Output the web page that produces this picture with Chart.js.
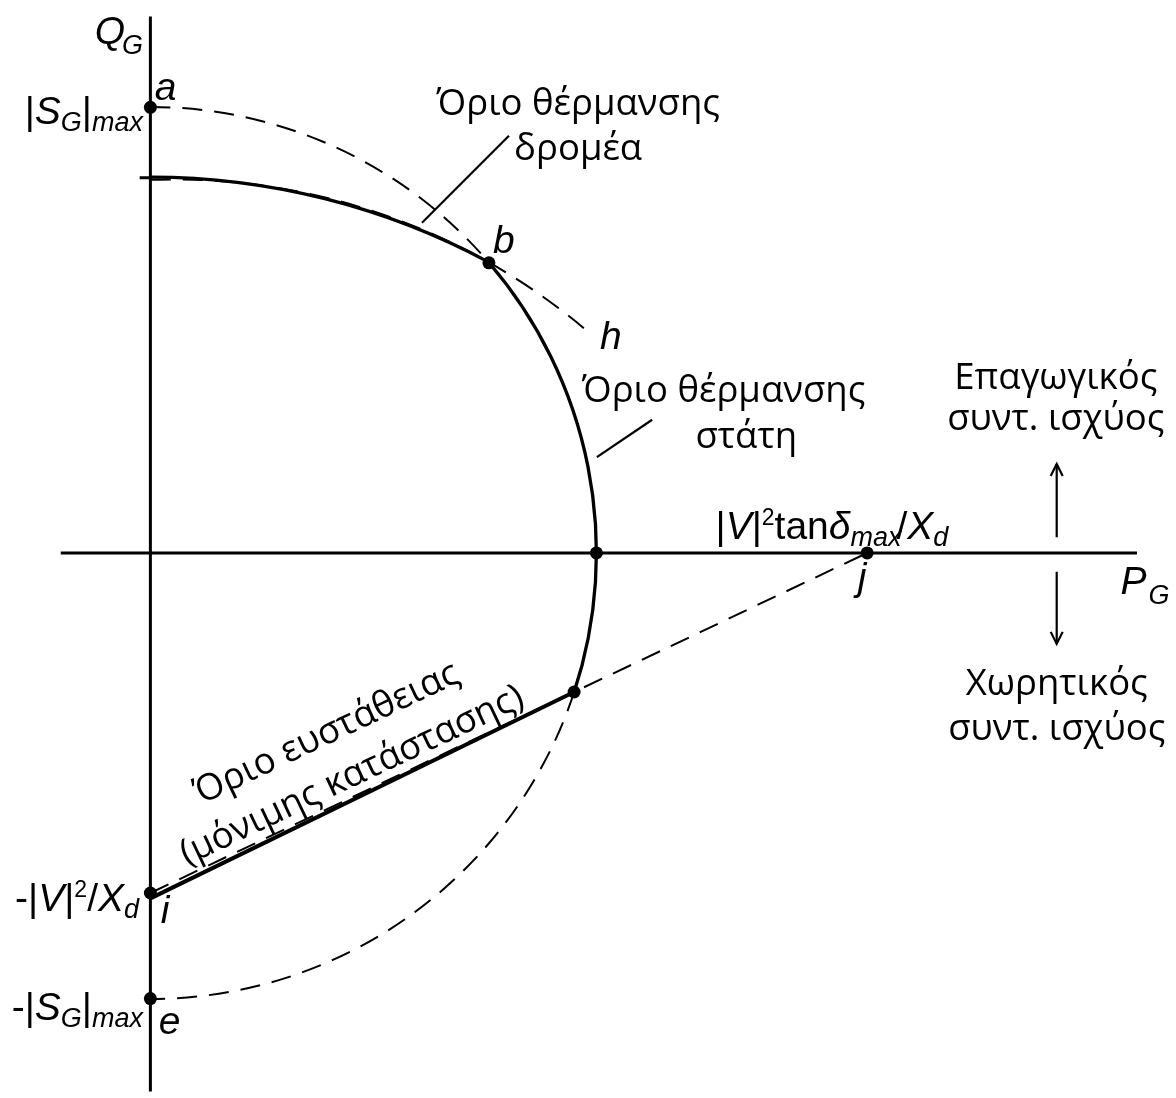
<!DOCTYPE html>
<html lang="el">
<head>
<meta charset="UTF-8">
<title>Διάγραμμα ικανότητας σύγχρονης γεννήτριας</title>
<script src="https://cdn.jsdelivr.net/npm/chart.js@4.4.1/dist/chart.umd.min.js"></script>
<style>
  html, body { margin: 0; padding: 0; background: #fff; }
  canvas { display: block; }
</style>
</head>
<body>
<canvas id="pq-chart" width="1176" height="1098"></canvas>
<script>
// P-Q capability chart, everything in per-unit of |S_G|max

// plane extent
const pRange = [-0.3226, 2.2849];
const qRange = [-1.2084, 1.2262];

// marked points
const markNames = ['a', 'b', '', '', 'i', 'e', 'j'];
const markP = [0, 0.759, 1.0, 0.950, 0, 0, 1.607];
const markQ = [1.0, 0.651, 0, -0.312, -0.763, -1.0, 0];

// circle arcs: stator limit (|S_G|max), rotor limit and its extension to h
const arcCentreP = [0, 0, 0, 0, 0.0535];
const arcCentreQ = [0, 0, 0, -0.763, -0.594];
const arcRadius = [1.0, 1.0, 1.0, 1.605, 1.431];
const arcFromDeg = [90, 40.6, -18.2, 90, 92.1];
const arcToDeg = [40.6, -18.2, -90, 61.8, 49.1];
const arcKind = ['dash', 'solid', 'dash', 'solid', 'dash'];

// straight segments
const segNames = ['P axis', 'Q axis', 'stability', 'stability ext', 'tick', 'rotor leader', 'stator leader', 'up', 'down'];
const segP1 = [-0.201, 0, 0, 0, -0.024, 0.609, 1.001, 2.032, 2.032];
const segQ1 = [0, 1.204, -0.775, -0.763, 0.842, 0.741, 0.215, 0.0355, -0.042];
const segP2 = [2.212, 0, 0.950, 1.607, 0, 0.804, 1.125, 2.032, 2.032];
const segQ2 = [0, -1.22, -0.312, 0, 0.842, 0.936, 0.299, 0.1996, -0.204];
const segKind = ['axis', 'axis', 'heavy', 'dash', 'axis', 'thin', 'thin', 'thin', 'thin'];

const MATH = '"Liberation Sans", Arial, sans-serif';
const GREEK = '"Open Sans", sans-serif';
const DASH = [20, 12];

const widthOf = { axis: 3, heavy: 4, solid: 3.3, dash: 2, thin: 2.2 };

function runFont(kind) {
  if (kind === 'n') return '39px ' + MATH;
  if (kind === 'i') return 'italic 39px ' + MATH;
  if (kind === 'sub') return 'italic 27px ' + MATH;
  if (kind === 'sup') return '23px ' + MATH;
  if (kind === 'g') return '36.5px ' + GREEK;
  return kind;
}

// label anchors (P, Q) with text runs
const labels = [
  { p: -0.125, q: 1.142, align: 'left', subDy: 10, runs: [['Q', 'i', -3], ['G', 'sub']] },
  { p: 2.175, q: -0.093, align: 'left', subDy: 10, runs: [['P', 'i', 2], ['G', 'sub']] },
  { p: -0.0166, q: 0.962, align: 'right', runs: [['|', 'n'], ['S', 'i'], ['G', 'sub'], ['|', 'n'], ['max', 'sub']] },
  { p: -0.0255, q: -0.803, align: 'right', runs: [['-|', 'n'], ['V', 'i'], ['|', 'n'], ['2', 'sup'], ['/', 'n'], ['X', 'i'], ['d', 'sub']] },
  { p: -0.0166, q: -1.047, align: 'right', runs: [['-|', 'n'], ['S', 'i'], ['G', 'sub'], ['|', 'n'], ['max', 'sub']] },
  { p: 1.267, q: 0.031, align: 'left', runs: [['|', 'n'], ['V', 'i'], ['|', 'n'], ['2', 'sup'], ['tan', 'n'], ['δ', 'i'], ['max', 'sub', -5], ['/', 'n'], ['X', 'i'], ['d', 'sub']] },
  { p: 0.010, q: 1.016, align: 'left', runs: [['a', 'i']] },
  { p: 0.768, q: 0.672, align: 'left', runs: [['b', 'i']] },
  { p: 1.008, q: 0.457, align: 'left', runs: [['h', 'i']] },
  { p: 0.023, q: -0.831, align: 'left', runs: [['i', 'i']] },
  { p: 0.019, q: -1.080, align: 'left', runs: [['e', 'i']] },
  { p: 1.586, q: -0.082, align: 'left', runs: [['j', 'i']] },
  { p: 0.959, q: 0.982, align: 'center', runs: [['Όριο θέρμανσης', 'g']] },
  { p: 0.959, q: 0.882, align: 'center', runs: [['δρομέα', 'g']] },
  { p: 1.285, q: 0.339, align: 'center', runs: [['Όριο θέρμανσης', 'g']] },
  { p: 1.336, q: 0.235, align: 'center', runs: [['στάτη', 'g']] },
  { p: 2.030, q: 0.368, align: 'center', runs: [['Επαγωγικός', 'g']] },
  { p: 2.030, q: 0.277, align: 'center', runs: [['συντ. ισχύος', 'g']] },
  { p: 2.032, q: -0.319, align: 'center', runs: [['Χωρητικός', 'g']] },
  { p: 2.032, q: -0.419, align: 'center', runs: [['συντ. ισχύος', 'g']] }
];

// text set along the stability line (from i towards j)
const slopeLabels = [
  { t: 0.287, offset: 58, text: 'Όριο ευστάθειας' },
  { t: 0.293, offset: 9, text: '(μόνιμης κατάστασης)' }
];

function drawRuns(ctx, x, y, align, runs, subDy) {
  let total = 0;
  const widths = runs.map(r => {
    ctx.font = runFont(r[1]);
    const w = ctx.measureText(r[0]).width + (r[2] || 0);
    total += w;
    return w;
  });
  let cx = align === 'right' ? x - total : align === 'center' ? x - total / 2 : x;
  runs.forEach((r, k) => {
    ctx.font = runFont(r[1]);
    let dy = 0;
    if (r[1] === 'sub') dy = subDy || 7;
    if (r[1] === 'sup') dy = -14;
    ctx.fillText(r[0], cx, y + dy);
    cx += widths[k];
  });
}

const geometryPlugin = {
  id: 'geometry',
  beforeDatasetsDraw(chart) {
    const { ctx, scales: { x, y } } = chart;
    const unit = x.getPixelForValue(1) - x.getPixelForValue(0);
    ctx.save();
    ctx.strokeStyle = '#000';
    arcRadius.forEach((r, k) => {
      ctx.beginPath();
      ctx.lineWidth = widthOf[arcKind[k]];
      ctx.setLineDash(arcKind[k] === 'dash' ? DASH : []);
      ctx.arc(x.getPixelForValue(arcCentreP[k]), y.getPixelForValue(arcCentreQ[k]), r * unit,
        -arcFromDeg[k] * Math.PI / 180, -arcToDeg[k] * Math.PI / 180, false);
      ctx.stroke();
    });
    ctx.restore();
  },
  afterDatasetsDraw(chart) {
    const { ctx, scales: { x, y } } = chart;
    ctx.save();
    ctx.fillStyle = '#000';
    ctx.strokeStyle = '#000';
    ctx.textBaseline = 'alphabetic';

    // arrow heads on the two power-factor arrows
    ctx.lineWidth = 2.2;
    segNames.forEach((name, k) => {
      if (name !== 'up' && name !== 'down') return;
      const tx = x.getPixelForValue(segP2[k]);
      const ty = y.getPixelForValue(segQ2[k]);
      const dir = name === 'up' ? 1 : -1;
      ctx.beginPath();
      ctx.moveTo(tx - 6, ty + dir * 12);
      ctx.lineTo(tx, ty);
      ctx.lineTo(tx + 6, ty + dir * 12);
      ctx.stroke();
    });

    labels.forEach(l => {
      drawRuns(ctx, x.getPixelForValue(l.p), y.getPixelForValue(l.q), l.align, l.runs, l.subDy);
    });

    // stability limit caption, rotated to the line i-j
    const ix = x.getPixelForValue(markP[4]), iy = y.getPixelForValue(markQ[4]);
    const jx = x.getPixelForValue(markP[6]), jy = y.getPixelForValue(markQ[6]);
    const ang = Math.atan2(jy - iy, jx - ix);
    ctx.font = runFont('g');
    ctx.textAlign = 'center';
    slopeLabels.forEach(s => {
      const px = ix + (jx - ix) * s.t + Math.sin(ang) * s.offset;
      const py = iy + (jy - iy) * s.t - Math.cos(ang) * s.offset;
      ctx.save();
      ctx.translate(px, py);
      ctx.rotate(ang);
      ctx.fillText(s.text, 0, 0);
      ctx.restore();
    });
    ctx.restore();
  }
};

const segDatasets = segNames.map((name, k) => ({
  label: name,
  data: [{ x: segP1[k], y: segQ1[k] }, { x: segP2[k], y: segQ2[k] }],
  showLine: true,
  borderColor: '#000',
  borderWidth: widthOf[segKind[k]],
  borderDash: segKind[k] === 'dash' ? DASH : [],
  pointRadius: 0,
  fill: false
}));

new Chart(document.getElementById('pq-chart'), {
  type: 'scatter',
  data: {
    datasets: [
      {
        label: 'points',
        data: markP.map((p, k) => ({ x: p, y: markQ[k] })),
        pointRadius: 6.5,
        pointBackgroundColor: '#000',
        pointBorderWidth: 0,
        showLine: false
      },
      ...segDatasets
    ]
  },
  options: {
    responsive: false,
    animation: false,
    events: [],
    layout: { padding: 0 },
    plugins: { legend: { display: false }, tooltip: { enabled: false } },
    scales: {
      x: { type: 'linear', min: pRange[0], max: pRange[1], display: false },
      y: { type: 'linear', min: qRange[0], max: qRange[1], display: false }
    }
  },
  plugins: [geometryPlugin]
});
</script>
</body>
</html>
